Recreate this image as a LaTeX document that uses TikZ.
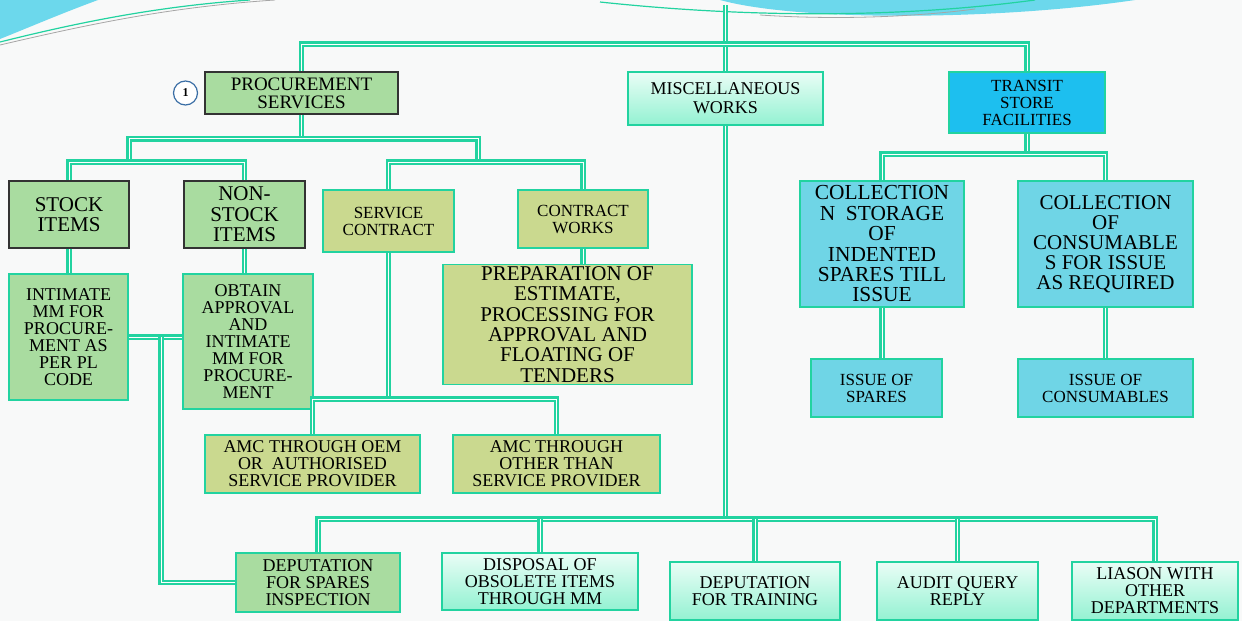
\documentclass[tikz,border=0pt]{standalone}
\usepackage{fontspec}
\setmainfont{Liberation Serif}
\usepackage{tikz}
\usetikzlibrary{positioning}
\definecolor{linec}{HTML}{22D3A0}
\definecolor{boxgreen}{HTML}{A9DCA0}
\definecolor{boxolive}{HTML}{CAD98F}
\definecolor{boxblue}{HTML}{6FD5E6}
\definecolor{boxsky}{HTML}{1DBFEF}
\definecolor{mintTop}{HTML}{EAFDF6}
\definecolor{mintBot}{HTML}{93F2D2}
\definecolor{bgc}{HTML}{F8F9F9}
\definecolor{swoosh}{HTML}{6CD8EC}
\definecolor{circblue}{HTML}{3A6EA5}
\tikzset{boxsize/.style 2 args = {minimum width=#1*0.5pt, minimum height=#2*0.5pt}}

\begin{document}
\begin{tikzpicture}[x=0.5pt, y=-0.5pt,
      link/.style = {draw=linec, line width=1.15pt, double=white, double distance=0.45pt},
       box/.style = {draw=linec, line width=0.9pt, align=center, inner sep=1pt,
                     font=\fontsize{9}{8.5}\selectfont},
       big/.style = {font=\fontsize{10.5}{10.2}\selectfont},
  greenbox/.style = {box, fill=boxgreen},
   darkbox/.style = {greenbox, draw=black!80},
  olivebox/.style = {box, fill=boxolive},
   mintbox/.style = {box, top color=mintTop, bottom color=mintBot},
   bluebox/.style = {box, fill=boxblue},
      numc/.style = {circle, draw=circblue, fill=white, line width=0.6pt,
                     minimum size=12pt, inner sep=0pt, font=\fontsize{6}{6}\selectfont\bfseries}
                    ]
\useasboundingbox (0,0) rectangle (1242,621);
\fill[bgc] (0,0) rectangle (1242,621);
% slide swooshes
\fill[swoosh] (0,0) -- (98,0) .. controls (60,14) and (30,27) .. (0,39) -- cycle;
\draw[linec, line width=0.6pt] (0,42) .. controls (80,22) and (160,6) .. (250,0);
\draw[gray!70, line width=0.4pt] (0,45) .. controls (90,24) and (170,7) .. (275,0);
\fill[swoosh] (720,0) .. controls (800,22) and (1000,20) .. (1135,0) -- cycle;
\draw[linec, line width=0.6pt] (600,2) .. controls (750,18) and (900,18) .. (1035,0);
\draw[gray!70, line width=0.4pt] (760,15) .. controls (850,21) and (930,15) .. (975,9);

% top level
\node (proc) [darkbox, boxsize={193}{42}, font=\fontsize{9.5}{9}\selectfont]
      at (301.5,93) {PROCUREMENT\\SERVICES};
\node (one) [numc, left=3pt of proc] {1};
\node (misc) [mintbox, boxsize={195}{53}, font=\fontsize{9}{9.5}\selectfont]
      at (725.5,98.5) {MISCELLANEOUS\\WORKS};
\node (transit) [box, fill=boxsky, boxsize={156}{61}, font=\fontsize{8.5}{8.5}\selectfont]
      at (1027,102.5) {TRANSIT\\STORE\\FACILITIES};

% procurement branch
\node (stock) [darkbox, big, boxsize={120}{67}] at (69,214.5) {STOCK\\ITEMS};
\node (nonstock) [darkbox, big, boxsize={121}{67}] at (244.5,214.5) {NON-\\STOCK\\ITEMS};
\node (svc) [olivebox, boxsize={131}{62}, font=\fontsize{8.5}{8.5}\selectfont]
      at (388.5,221) {SERVICE\\CONTRACT};
\node (cworks) [olivebox, boxsize={130}{58}, font=\fontsize{8.5}{8.5}\selectfont]
      at (583,219) {CONTRACT\\WORKS};
\node (intim) [greenbox, boxsize={119}{126}] at (68.5,337)
      {INTIMATE\\MM FOR\\PROCURE-\\MENT AS\\PER PL\\CODE};
\node (obtain) [greenbox, boxsize={130}{135}] at (248,341.5)
      {OBTAIN\\APPROVAL\\AND\\INTIMATE\\MM FOR\\PROCURE-\\MENT};
\node (prep) [olivebox, big, boxsize={249}{119}] at (567.5,324.5)
      {PREPARATION OF\\ESTIMATE,\\PROCESSING FOR\\APPROVAL AND\\FLOATING OF\\TENDERS};
\node (amcoem) [olivebox, boxsize={215}{58}] at (312.5,464)
      {AMC THROUGH OEM\\OR\ \ AUTHORISED\\SERVICE PROVIDER};
\node (amcother) [olivebox, boxsize={207}{58}] at (556.5,464)
      {AMC THROUGH\\OTHER THAN\\SERVICE PROVIDER};

% transit branch
\node (colspares) [bluebox, boxsize={164}{126}, font=\fontsize{10.7}{10.2}\selectfont]
      at (882,244) {COLLECTION\\N\ \ STORAGE\\OF\\INDENTED\\SPARES TILL\\ISSUE};
\node (colcons) [bluebox, boxsize={175}{126}, font=\fontsize{10.5}{10}\selectfont]
      at (1105.5,244) {COLLECTION\\OF\\CONSUMABLE\\S FOR ISSUE\\AS REQUIRED};
\node (isspares) [bluebox, boxsize={131}{58}, font=\fontsize{8.5}{8.5}\selectfont]
      at (876.5,388) {ISSUE OF\\SPARES};
\node (isscons) [bluebox, boxsize={175}{58}, font=\fontsize{8.5}{8.5}\selectfont]
      at (1105.5,388) {ISSUE OF\\CONSUMABLES};

% miscellaneous branch
\node (depspares) [greenbox, boxsize={164}{59}] at (318,582.5) {DEPUTATION\\FOR SPARES\\INSPECTION};
\node (disposal) [mintbox, boxsize={196}{57}] at (540,581.5) {DISPOSAL OF\\OBSOLETE ITEMS\\THROUGH MM};
\node (training) [mintbox, boxsize={170}{58}] at (755,591) {DEPUTATION\\FOR TRAINING};
\node (audit) [mintbox, boxsize={161}{58}] at (957.5,591) {AUDIT QUERY\\REPLY};
\node (liason) [mintbox, boxsize={166}{58}] at (1155,591) {LIASON WITH\\OTHER\\DEPARTMENTS};

% connectors
\coordinate (sl)  at (129,163);
\coordinate (sr)  at (478,163);
\coordinate (spj) at (161,337);
\draw[link] (misc.north) -- ++(0,-66);
\draw[link] (proc.north) -- ++(0,-27) -| (transit.north);
\draw[link] (proc.south) -- ++(0,24) coordinate (pj);
\draw[link] (sl) |- (pj) -| (sr);
\draw[link] (stock.north) -- ++(0,-18) -| (nonstock.north);
\draw[link] (svc.north) -- ++(0,-27) -| (cworks.north);
\draw[link] (stock.south) -- (stock.south |- intim.north);
\draw[link] (nonstock.south) -- (nonstock.south |- obtain.north);
\draw[link] (cworks.south) -- (cworks.south |- prep.north);
\draw[link] (intim) -- (intim -| obtain.west);
\draw[link] (spj) |- (depspares.west);
\draw[link] (svc.south) -- ++(0,148);
\draw[link] (amcoem.north) -- ++(0,-35) -| (amcother.north);
\draw[link] (transit.south) -- ++(0,22);
\draw[link] (colspares.north) -- ++(0,-26) -| (colcons.north);
\draw[link] (colspares.south) -- (colspares.south |- isspares.north);
\draw[link] (colcons.south) -- (isscons.north);
\draw[link] (misc.south) -- ++(0,395);
\draw[link] (depspares.north) -- ++(0,-33) -| (liason.north);
\draw[link] (disposal.north) -- ++(0,-33);
\draw[link] (training.north) -- ++(0,-42);
\draw[link] (audit.north) -- ++(0,-42);
\end{tikzpicture}
\end{document}
